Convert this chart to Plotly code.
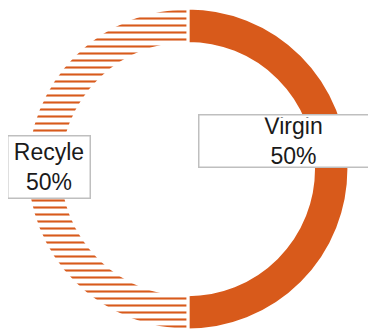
import plotly.graph_objects as go

labels = ["Virgin", "Recyle"]
values = [50, 50]
patterns = ["", "-"]

orange = "#D85A1B"

total = sum(values)
pcts = [f"{round(v / total * 100)}%" for v in values]

# the page body adds an 8px offset, so domain/boxes are placed to compensate
fig = go.Figure(
    go.Pie(
        labels=labels,
        values=values,
        hole=0.78,
        sort=False,
        direction="clockwise",
        rotation=0,
        textinfo="none",
        hoverinfo="label+percent",
        showlegend=False,
        marker=dict(
            colors=[orange, "white"],
            line=dict(color="white", width=3),
            pattern=dict(shape=patterns, fgcolor=orange, bgcolor="white",
                         fgopacity=1, size=7, solidity=0.3, fillmode="overlay"),
        ),
        domain=dict(x=[0.05, 0.907], y=[0.027, 1.0]),
    )
)

box_specs = [
    dict(x=0.758, y=0.5967, width=184, height=47),
    dict(x=0.110, y=0.5211, width=77, height=57),
]
for lab, pct, spec in zip(labels, pcts, box_specs):
    fig.add_annotation(
        x=spec["x"], y=spec["y"], xref="paper", yref="paper",
        xanchor="center", yanchor="middle",
        text=f"{lab}<br>{pct}", showarrow=False,
        font=dict(family="Liberation Sans, Arial", size=23, color="#1a1a1a"),
        bgcolor="white", bordercolor="#BFBFBF", borderwidth=1.5, borderpad=2,
        width=spec["width"], height=spec["height"], align="center",
    )

fig.update_layout(
    width=376, height=331,
    margin=dict(l=0, r=0, t=0, b=0),
    paper_bgcolor="white", plot_bgcolor="white",
)

fig.write_html("out.html")
